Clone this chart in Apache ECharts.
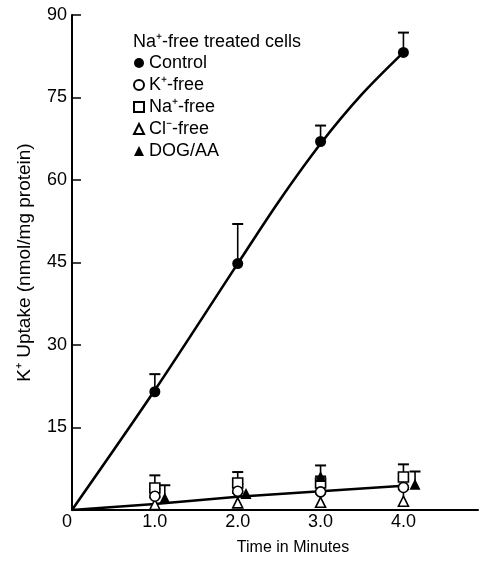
<!DOCTYPE html>
<html>
<head>
<meta charset="utf-8">
<script src="https://cdn.jsdelivr.net/npm/echarts@6/dist/echarts.min.js"></script>
<style>html,body{margin:0;padding:0;background:#fff}#c{width:481px;height:561px}</style>
</head>
<body>
<div id="c"></div>
<script>
// ---- data ----
const times = [1, 2, 3, 4];
const controlVals = [21.5, 44.8, 67.0, 83.2];
const controlErr = [3.2, 7.2, 2.9, 3.6];
const kFreeVals = [2.5, 3.4, 3.3, 4.1];
const kFreeErr = [1.3, 1.3, 1.4, 1.6];
const naFreeVals = [4.0, 4.9, 4.9, 6.0];
const naFreeErr = [2.3, 2.0, 1.2, 2.3];
const clFreeVals = [1.0, 1.3, 1.4, 1.6];
const clFreeErr = [1.3, 1.8, 1.6, 2.2];
const dogTimes = [1.12, 2.1, 3.0, 4.14];
const dogVals = [2.2, 3.0, 6.1, 4.7];
const dogErr = [2.3, 0, 2.0, 2.3];
const controlFitX = [0, 1, 2, 2.5, 3, 3.5, 4];
const controlFitY = [0, 21.8, 44.8, 56.2, 66.6, 75.6, 83.2];
const lowFitX = [0, 1, 2, 3, 4];
const lowFitY = [0, 1.1, 2.4, 3.4, 4.4];
const yTicks = [0, 15, 30, 45, 60, 75, 90];
const xTickLabels = ['0', '1.0', '2.0', '3.0', '4.0'];

const pts = (xs, ys) => xs.map((x, i) => [x, ys[i]]);
const errs = (xs, ys, es) => xs.map((x, i) => [x, ys[i], es[i]]);

const FONT = '"Liberation Sans", Arial, Helvetica, sans-serif';
const chart = echarts.init(document.getElementById('c'), null, {renderer: 'canvas'});

const errData = [].concat(
  errs(times, controlVals, controlErr),
  errs(times, kFreeVals, kFreeErr),
  errs(times, naFreeVals, naFreeErr),
  errs(times, clFreeVals, clFreeErr),
  errs(dogTimes, dogVals, dogErr)
).filter(d => d[2] > 0);

const openStyle = {color: '#fff', borderColor: '#000', borderWidth: 1.6, opacity: 1};
const fillStyle = {color: '#000', borderColor: '#000', borderWidth: 0, opacity: 1};

chart.setOption({
  animation: false,
  backgroundColor: '#fff',
  textStyle: {fontFamily: FONT, color: '#000'},
  title: {
    text: 'Na\u207A-free treated cells',
    left: 133, top: 33, padding: 0,
    textStyle: {fontFamily: FONT, fontSize: 18, fontWeight: 'normal', color: '#000'}
  },
  legend: {
    orient: 'vertical', left: 133, top: 54, padding: 0,
    itemWidth: 10, itemHeight: 10, itemGap: 4,
    textStyle: {fontFamily: FONT, fontSize: 18, color: '#000', lineHeight: 18},
    data: [
      {name: 'Control', icon: 'circle'},
      {name: 'K\u207A-free', icon: 'circle'},
      {name: 'Na\u207A-free', icon: 'rect'},
      {name: 'Cl\u207B-free', icon: 'triangle'},
      {name: 'DOG/AA', icon: 'triangle'}
    ]
  },
  grid: {left: 72, right: 0, top: 15, bottom: 47},
  xAxis: {
    type: 'value', min: 0, max: 4.9, interval: 1,
    name: 'Time in Minutes', nameLocation: 'middle', nameGap: 30,
    nameTextStyle: {fontFamily: FONT, fontSize: 16, color: '#000', padding: [0, 0, 0, 36]},
    axisLine: {show: true, onZero: false, lineStyle: {color: '#000', width: 2}},
    axisTick: {show: false},
    splitLine: {show: false},
    axisLabel: {
      margin: 3, fontSize: 18, color: '#000', fontFamily: FONT,
      formatter: v => { const i = Math.round(v); return i === 0 ? '{z|' + xTickLabels[0] + '}' : (xTickLabels[i] || ''); },
      rich: {z: {fontSize: 18, fontFamily: FONT, color: '#000', padding: [0, 10, 0, 0]}}
    }
  },
  yAxis: {
    type: 'value', min: yTicks[0], max: yTicks[yTicks.length - 1], interval: 15,
    name: 'K\u207A Uptake (nmol/mg protein)', nameLocation: 'middle', nameGap: 38,
    nameTextStyle: {fontFamily: FONT, fontSize: 19, color: '#000'},
    axisLine: {show: true, lineStyle: {color: '#000', width: 2}},
    axisTick: {show: true, inside: true, length: 9, lineStyle: {color: '#000', width: 1.5}},
    splitLine: {show: false},
    axisLabel: {
      margin: 5, fontSize: 18, color: '#000', fontFamily: FONT,
      formatter: v => v === 0 ? '' : String(v)
    }
  },
  series: [
    {
      type: 'line', name: 'ctrlfit', data: pts(controlFitX, controlFitY), smooth: 0.3,
      showSymbol: false, symbol: 'none', lineStyle: {color: '#000', width: 2.6}, z: 2, silent: true
    },
    {
      type: 'line', name: 'lowfit', data: pts(lowFitX, lowFitY), smooth: false,
      showSymbol: false, symbol: 'none', lineStyle: {color: '#000', width: 2.6}, z: 2, silent: true
    },
    {
      type: 'custom', name: 'err', data: errData, z: 3, silent: true,
      encode: {x: 0, y: 1},
      renderItem: (params, api) => {
        const x = api.value(0), y = api.value(1), e = api.value(2);
        const p0 = api.coord([x, y]);
        const p1 = api.coord([x, y + e]);
        return {
          type: 'group',
          children: [
            {type: 'line', shape: {x1: p0[0], y1: p0[1], x2: p1[0], y2: p1[1]}, style: {stroke: '#000', lineWidth: 1.6}},
            {type: 'line', shape: {x1: p1[0] - 5.5, y1: p1[1], x2: p1[0] + 5.5, y2: p1[1]}, style: {stroke: '#000', lineWidth: 2}}
          ]
        };
      }
    },
    {type: 'scatter', name: 'Cl\u207B-free', data: pts(times, clFreeVals), symbol: 'triangle', symbolSize: 10, itemStyle: openStyle, z: 4},
    {type: 'scatter', name: 'Na\u207A-free', data: pts(times, naFreeVals), symbol: 'rect', symbolSize: 10, itemStyle: openStyle, z: 5},
    {type: 'scatter', name: 'K\u207A-free', data: pts(times, kFreeVals), symbol: 'circle', symbolSize: 10, itemStyle: openStyle, z: 6},
    {type: 'scatter', name: 'DOG/AA', data: pts(dogTimes, dogVals), symbol: 'triangle', symbolSize: 11, itemStyle: fillStyle, z: 7},
    {type: 'scatter', name: 'Control', data: pts(times, controlVals), symbol: 'circle', symbolSize: 11, itemStyle: fillStyle, z: 8}
  ]
});
</script>
</body>
</html>
